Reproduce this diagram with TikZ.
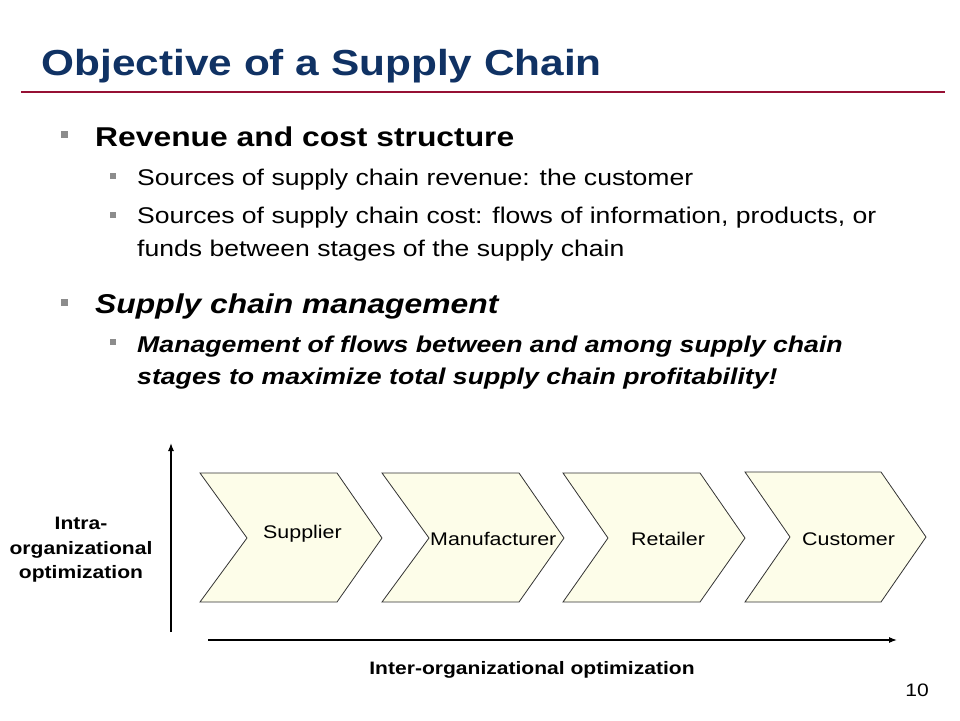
\documentclass[tikz,border=0pt]{standalone}
\usepackage{fontspec}
\usetikzlibrary{arrows.meta}
\setmainfont[FakeStretch=1.17]{Liberation Sans}
\definecolor{titre}{RGB}{16,50,100}
\definecolor{bordeaux}{RGB}{150,16,52}
\definecolor{puce}{RGB}{140,140,140}
\definecolor{creme}{RGB}{253,253,233}
\newcommand{\taille}[1]{\fontsize{#1}{#1}\selectfont}

\begin{document}
\begin{tikzpicture}[x=1pt,y=-1pt]
\tikzset{texte/.style={anchor=base west, inner sep=0pt},
  grandepuce/.style={fill=puce, inner sep=0pt, minimum size=7pt},
  petitepuce/.style={fill=puce, inner sep=0pt, minimum size=6pt},
  etape/.style={draw=black!80, fill=creme, line width=0.8pt},
  nometape/.style={anchor=base west, inner sep=0pt, font=\taille{18.3}},
  legende/.style={anchor=base, inner sep=0pt, font=\taille{18}\bfseries},
  axe/.style={-{Latex[length=8pt,width=6pt]}, line width=1.2pt}}
\useasboundingbox (0,0) rectangle (960,720);
\fill[white] (0,0) rectangle (960,720);
% titre
\node[texte, text=titre, font=\taille{36.2}\bfseries] (T) at (41.5,75) {Objective of a Supply Chain};
\draw[bordeaux, line width=2.5pt] (21,92) -- (945,92);
% premier point
\node[grandepuce] (P1) at (64.5,134.5) {};
\node[texte, font=\taille{27.2}\bfseries] (R) at (95,146) {Revenue and cost structure};
\node[petitepuce] (P11) at (112.5,176) {};
\node[texte, font=\taille{22.7}] (R1) at (137,185.5) {Sources of supply chain revenue: the customer};
\node[petitepuce] (P12) at (112.5,214.5) {};
\node[texte, font=\taille{22.7}] (R2) at (137,223.5) {Sources of supply chain cost: flows of information, products, or};
\node[texte, font=\taille{22.7}] (R3) at (137,256) {funds between stages of the supply chain};
% second point
\node[grandepuce] (P2) at (64.5,302.5) {};
\node[texte, font=\taille{27.2}\bfseries\itshape] (S) at (95,313.5) {Supply chain management};
\node[petitepuce] (P21) at (112.5,341.5) {};
\node[texte, font=\taille{22.8}\bfseries\itshape] (S1) at (137,352.5) {Management of flows between and among supply chain};
\node[texte, font=\taille{22.8}\bfseries\itshape] (S2) at (137,384) {stages to maximize total supply chain profitability!};
% chaine
\draw[etape] (200,473) -- (337,473) -- (382,538) -- (337,602) -- (200,602) -- (247,538) -- cycle;
\draw[etape] (382,473) -- (519,473) -- (564,538) -- (519,602) -- (382,602) -- (429,538) -- cycle;
\draw[etape] (563,473) -- (700,473) -- (745,538) -- (700,602) -- (563,602) -- (608,538) -- cycle;
\draw[etape] (745,472) -- (881,472) -- (926,537) -- (881,602) -- (745,602) -- (790,537) -- cycle;
\node[nometape] (E1) at (263,538.5) {Supplier};
\node[nometape] (E2) at (430,545) {Manufacturer};
\node[nometape] (E3) at (631,545) {Retailer};
\node[nometape] (E4) at (802,545) {Customer};
% axes
\coordinate (Vbas) at (171,632);
\coordinate (Vhaut) at (171,443);
\coordinate (Hgauche) at (208,640);
\coordinate (Hdroite) at (897,640);
\draw[axe] (Vbas) -- (Vhaut);
\draw[axe] (Hgauche) -- (Hdroite);
\node[legende] (L1) at (81,529.5) {Intra-};
\node[legende] (L2) at (81,554) {organizational};
\node[legende] (L3) at (81,578.5) {optimization};
\node[legende] (L4) at (532,674.5) {Inter-organizational optimization};
\node[anchor=base east, inner sep=0pt, font=\taille{18}] (N) at (929,696) {10};
\end{tikzpicture}
\end{document}
